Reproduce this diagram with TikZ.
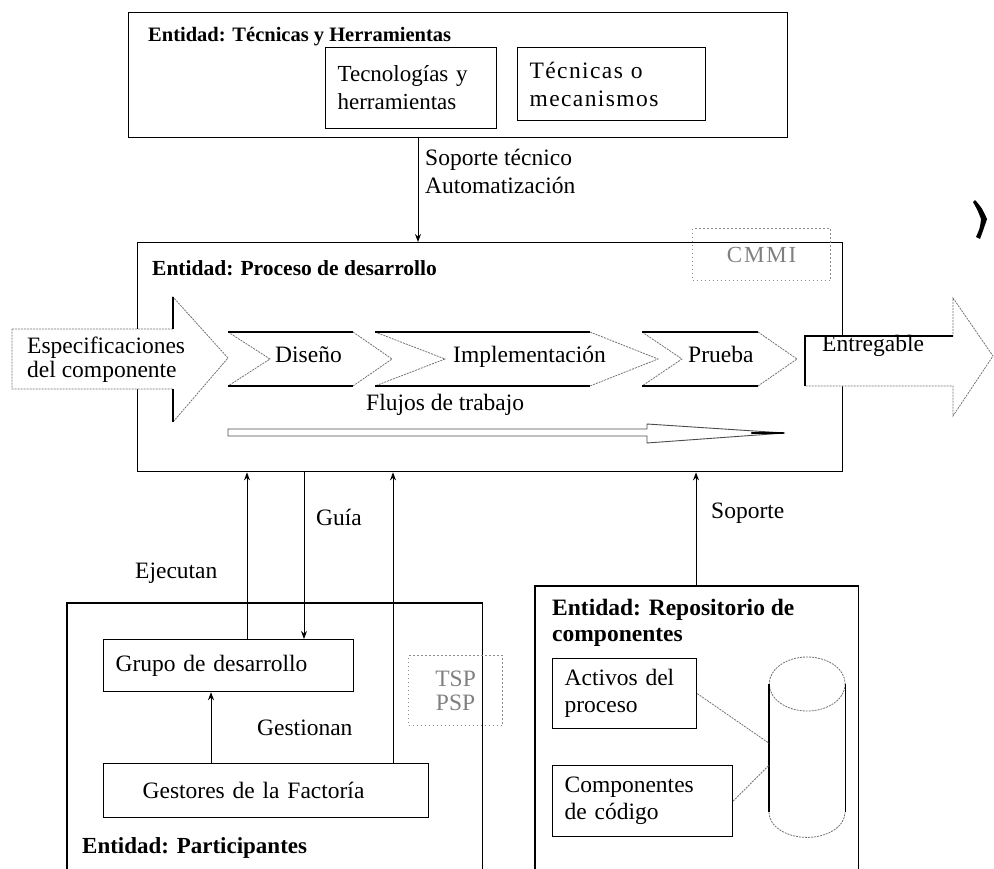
\documentclass[tikz,border=0pt]{standalone}
\usepackage{fontspec}
\setmainfont{Liberation Serif}
\usetikzlibrary{arrows.meta,calc}
\newcommand\txtfont{\fontsize{23.5}{27}\selectfont}
\begin{document}
\begin{tikzpicture}[x=1pt,y=-1pt,
  frame/.style={draw=black, line width=1.4pt, inner sep=0pt, anchor=north west},
  inbox/.style={draw=black, line width=1.2pt, anchor=north west, inner xsep=12pt,
    inner ysep=0pt, align=left, font=\txtfont},
  lbl/.style={inner sep=0pt, anchor=base west, font=\txtfont},
  ttl/.style={inner sep=0pt, anchor=base west, font=\bfseries\fontsize{#1}{#1}\selectfont},
  arr/.style={line width=1pt, -{Stealth[length=8pt,width=6pt]}},
  solidedge/.style={draw=black, line width=1.2pt},
  faint/.style={draw=black!55, line width=0.8pt, dash pattern=on 2pt off 1pt},
  dotbox/.style={draw=black!45, line width=1.2pt, dash pattern=on 1.5pt off 2.5pt, inner sep=0pt, anchor=north west},
]
\useasboundingbox (0,0) rectangle (994,869);

% ---- Entidad: Técnicas y Herramientas
\node[frame, minimum width=659pt, minimum height=125pt] (tech) at (128,12) {};
\node[ttl=20.5] (ttech) at (148,42) {Entidad: Técnicas y Herramientas};
\node[inbox, text width=147pt, minimum height=81pt, font=\fontsize{23}{28}\selectfont] (tecno) at (325,47) {Tecnologías y\\herramientas};
\node[inbox, text width=164pt, minimum height=73pt, font=\fontsize{23.5}{28}\selectfont\addfontfeature{LetterSpace=6}] (tmec) at (517,47) {Técnicas o\\mecanismos};

% ---- Entidad: Proceso de desarrollo
\node[frame, minimum width=705pt, minimum height=229pt] (proc) at (137,242) {};
\node[ttl=21.5] (tproc) at (152,276) {Entidad: Proceso de desarrollo};
\node[dotbox, minimum width=138pt, minimum height=52pt, font=\fontsize{23}{23}\selectfont\addfontfeature{LetterSpace=8}\color{black!50}] (cmmi) at (692,228) {CMMI};

% input and output arrows
\draw[faint, fill=white] (12,329) -- (173,329) -- (173,297) -- (228,358) -- (173,422) -- (173,389) -- (12,389) -- cycle;
\draw[solidedge] (173,329) -- (173,297) (173,389) -- (173,422);
\node[lbl] (esp1) at (27,353) {Especificaciones};
\node[lbl] (esp2) at (27,377) {del componente};

\draw[faint, fill=white] (805,336) -- (953,336) -- (953,298) -- (993,356) -- (953,416) -- (953,386) -- (805,386) -- cycle;
\draw[solidedge] (805,386) -- (805,336) -- (953,336);
\node[lbl] (entr) at (822,352) {Entregable};

% workflow chevrons
\draw[faint] (228,332) -- (270,359) -- (228,386) (353,332) -- (392,359) -- (353,386);
\draw[solidedge] (228,332) -- (353,332) (228,386) -- (353,386);
\node[lbl] (dis) at (275,362) {Diseño};

\draw[faint] (375,332) -- (445,359) -- (375,386) (590,332) -- (658,359) -- (590,386);
\draw[solidedge] (375,332) -- (590,332) (375,386) -- (590,386);
\node[lbl] (imp) at (453,362) {Implementación};

\draw[faint] (642,332) -- (682,359) -- (642,386) (758,332) -- (797,359) -- (758,386);
\draw[solidedge] (642,332) -- (758,332) (642,386) -- (758,386);
\node[lbl] (pru) at (688,362) {Prueba};

\node[lbl] (flu) at (366,410) {Flujos de trabajo};
\draw[draw=black!70, line width=0.9pt] (228,429) -- (647,429) -- (647,424) -- (785,433) -- (647,443) -- (647,436) -- (228,436) -- cycle;
\draw[line width=2.2pt, line cap=round] (752,433) -- (783,433);

% ---- Entidad: Participantes
\node[inner sep=0pt, anchor=north west, minimum width=415pt, minimum height=266pt] (part) at (67,603) {};
\draw[line width=1.4pt] (part.south west) |- (part.north east) -- (part.south east);
\node[ttl=23] (tpart) at (82,853) {Entidad: Participantes};
\node[inbox, text width=226pt, minimum height=52pt] (grupo) at (103,639) {Grupo de desarrollo};
\node[inbox, text width=301pt, minimum height=54pt] (gest) at (103,763) {\hspace*{27pt}Gestores de la Factoría};
\node[dotbox, minimum width=94pt, minimum height=70pt, align=center, font=\txtfont\color{black!50}] (tsp) at (408,655) {TSP\\[-3pt]PSP};
\node[lbl] (ejec) at (135,578) {Ejecutan};
\node[lbl] (gestn) at (257,735) {Gestionan};
\node[lbl] (guia) at (316,525) {Guía};

% ---- Entidad: Repositorio de componentes
\node[inner sep=0pt, anchor=north west, minimum width=323pt, minimum height=283pt] (repo) at (535,586) {};
\draw[line width=1.4pt] (repo.south west) |- (repo.north east) -- (repo.south east);
\node[ttl=23.5] (trep1) at (552,615) {Entidad: Repositorio de};
\node[ttl=23.5] (trep2) at (552,641) {componentes};
\node[inbox, text width=120pt, minimum height=70pt] (act) at (552,658) {Activos del\\proceso};
\node[inbox, text width=156pt, minimum height=71pt] (comp) at (552,765) {Componentes\\de código};

% repository cylinder
\node[inner sep=0pt, anchor=north west, minimum width=76pt, minimum height=180pt] (db) at (769,657) {};
\draw[faint] ($(db.north)+(0,27)$) ellipse [x radius=38, y radius=27];
\draw[faint] ($(db.south west)+(0,-25)$) arc[start angle=180, end angle=0, x radius=38, y radius=25];
\draw[black, line width=1.5pt] ($(db.north west)+(0,27)$) -- ($(db.south west)+(0,-25)$);
\draw[black, line width=1.5pt] ($(db.north east)+(0,27)$) -- ($(db.south east)+(0,-25)$);
\draw[faint] (act.east) -- ($(db.west)+(0,-4)$);
\draw[faint] (comp.east) -- ($(db.west)+(0,18)$);

% ---- connectors between entities
\coordinate (xsop) at (418,0);
\coordinate (xeje) at (247,0);
\coordinate (xgui) at (304,0);
\coordinate (xges) at (393,0);
\coordinate (xgrp) at (211,0);
\coordinate (xrep) at (696,0);
\draw[arr] (tech.south -| xsop) -- (proc.north -| xsop);
\node[lbl] (sop1) at (425,166) {Soporte técnico};
\node[lbl] (sop2) at (425,194) {Automatización};
\draw[arr] (grupo.north -| xeje) -- (proc.south -| xeje);
\draw[arr] (proc.south -| xgui) -- (grupo.north -| xgui);
\draw[arr] (gest.north -| xges) -- (proc.south -| xges);
\draw[arr] (gest.north -| xgrp) -- (grupo.south -| xgrp);
\draw[arr] (repo.north -| xrep) -- (proc.south -| xrep);
\node[lbl] (sop3) at (711,518) {Soporte};

% ink mark at the upper right
\fill (975,200) .. controls (982,208) .. (987,219) .. controls (984,228) .. (980,239)
      -- (976,237) .. controls (980,228) .. (981,219) .. controls (978,211) .. (973,202) -- cycle;
\end{tikzpicture}
\end{document}
